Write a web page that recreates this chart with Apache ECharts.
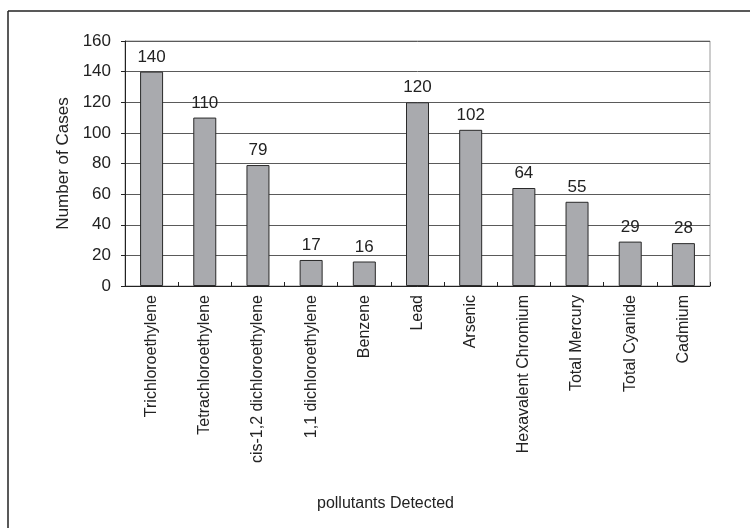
<!DOCTYPE html>
<html>
<head>
<meta charset="utf-8">
<script src="https://cdn.jsdelivr.net/npm/echarts@6/dist/echarts.min.js"></script>
<style>
  html, body { margin: 0; padding: 0; background: #fff; }
  #chart { width: 750px; height: 528px; }
</style>
</head>
<body>
<div id="chart"></div>
<script>
// Pollutants found and the number of cases for each
const pollutants = [
  'Trichloroethylene', 'Tetrachloroethylene', 'cis-1,2 dichloroethylene',
  '1,1 dichloroethylene', 'Benzene', 'Lead', 'Arsenic',
  'Hexavalent Chromium', 'Total Mercury', 'Total Cyanide', 'Cadmium'
];
const caseCounts = [140, 110, 79, 17, 16, 120, 102, 64, 55, 29, 28];
const yTicks = [0, 20, 40, 60, 80, 100, 120, 140, 160];

const FONT = 'Liberation Sans, Arial, sans-serif';
const chart = echarts.init(document.getElementById('chart'), null, { renderer: 'canvas' });

chart.setOption({
  animation: false,
  backgroundColor: '#fff',
  grid: {
    left: 125, right: 40, top: 41, bottom: 242,
    show: true, borderColor: '#9a9a9a', borderWidth: 1
  },
  xAxis: {
    type: 'category',
    data: pollutants,
    axisLine: { lineStyle: { color: '#222', width: 1 } },
    axisTick: { show: true, inside: true, length: 4, alignWithLabel: false, lineStyle: { color: '#222' } },
    axisLabel: {
      rotate: 90, interval: 0, margin: 9,
      color: '#222', fontFamily: FONT, fontSize: 16
    },
    splitLine: { show: false }
  },
  yAxis: {
    type: 'value',
    min: yTicks[0], max: yTicks[yTicks.length - 1], interval: 20,
    name: 'Number of Cases',
    nameLocation: 'middle',
    nameGap: 45,
    nameTextStyle: { color: '#222', fontFamily: FONT, fontSize: 17 },
    axisLine: { show: true, lineStyle: { color: '#222', width: 1 } },
    axisTick: { show: true, length: 4, lineStyle: { color: '#222' } },
    axisLabel: { color: '#222', fontFamily: FONT, fontSize: 17, margin: 14 },
    splitLine: { show: true, lineStyle: { color: '#5a5a5a', width: 1 } }
  },
  series: [{
    type: 'bar',
    data: caseCounts,
    barWidth: 23,
    itemStyle: { color: '#a9aaae', borderColor: '#2a2a2a', borderWidth: 1 },
    label: {
      show: true, position: 'top', distance: 6,
      color: '#222', fontFamily: FONT, fontSize: 17
    }
  }],
  graphic: [
    // frame around the figure (top and left edges)
    { type: 'line', shape: { x1: 8, y1: 11, x2: 750, y2: 11 }, style: { stroke: '#222', lineWidth: 1.5 } },
    { type: 'line', shape: { x1: 8, y1: 11, x2: 8, y2: 528 }, style: { stroke: '#222', lineWidth: 1.5 } },
    {
      type: 'text', left: 317, top: 496,
      style: { text: 'pollutants Detected', fill: '#222', font: '16px ' + FONT }
    }
  ]
});
</script>
</body>
</html>
